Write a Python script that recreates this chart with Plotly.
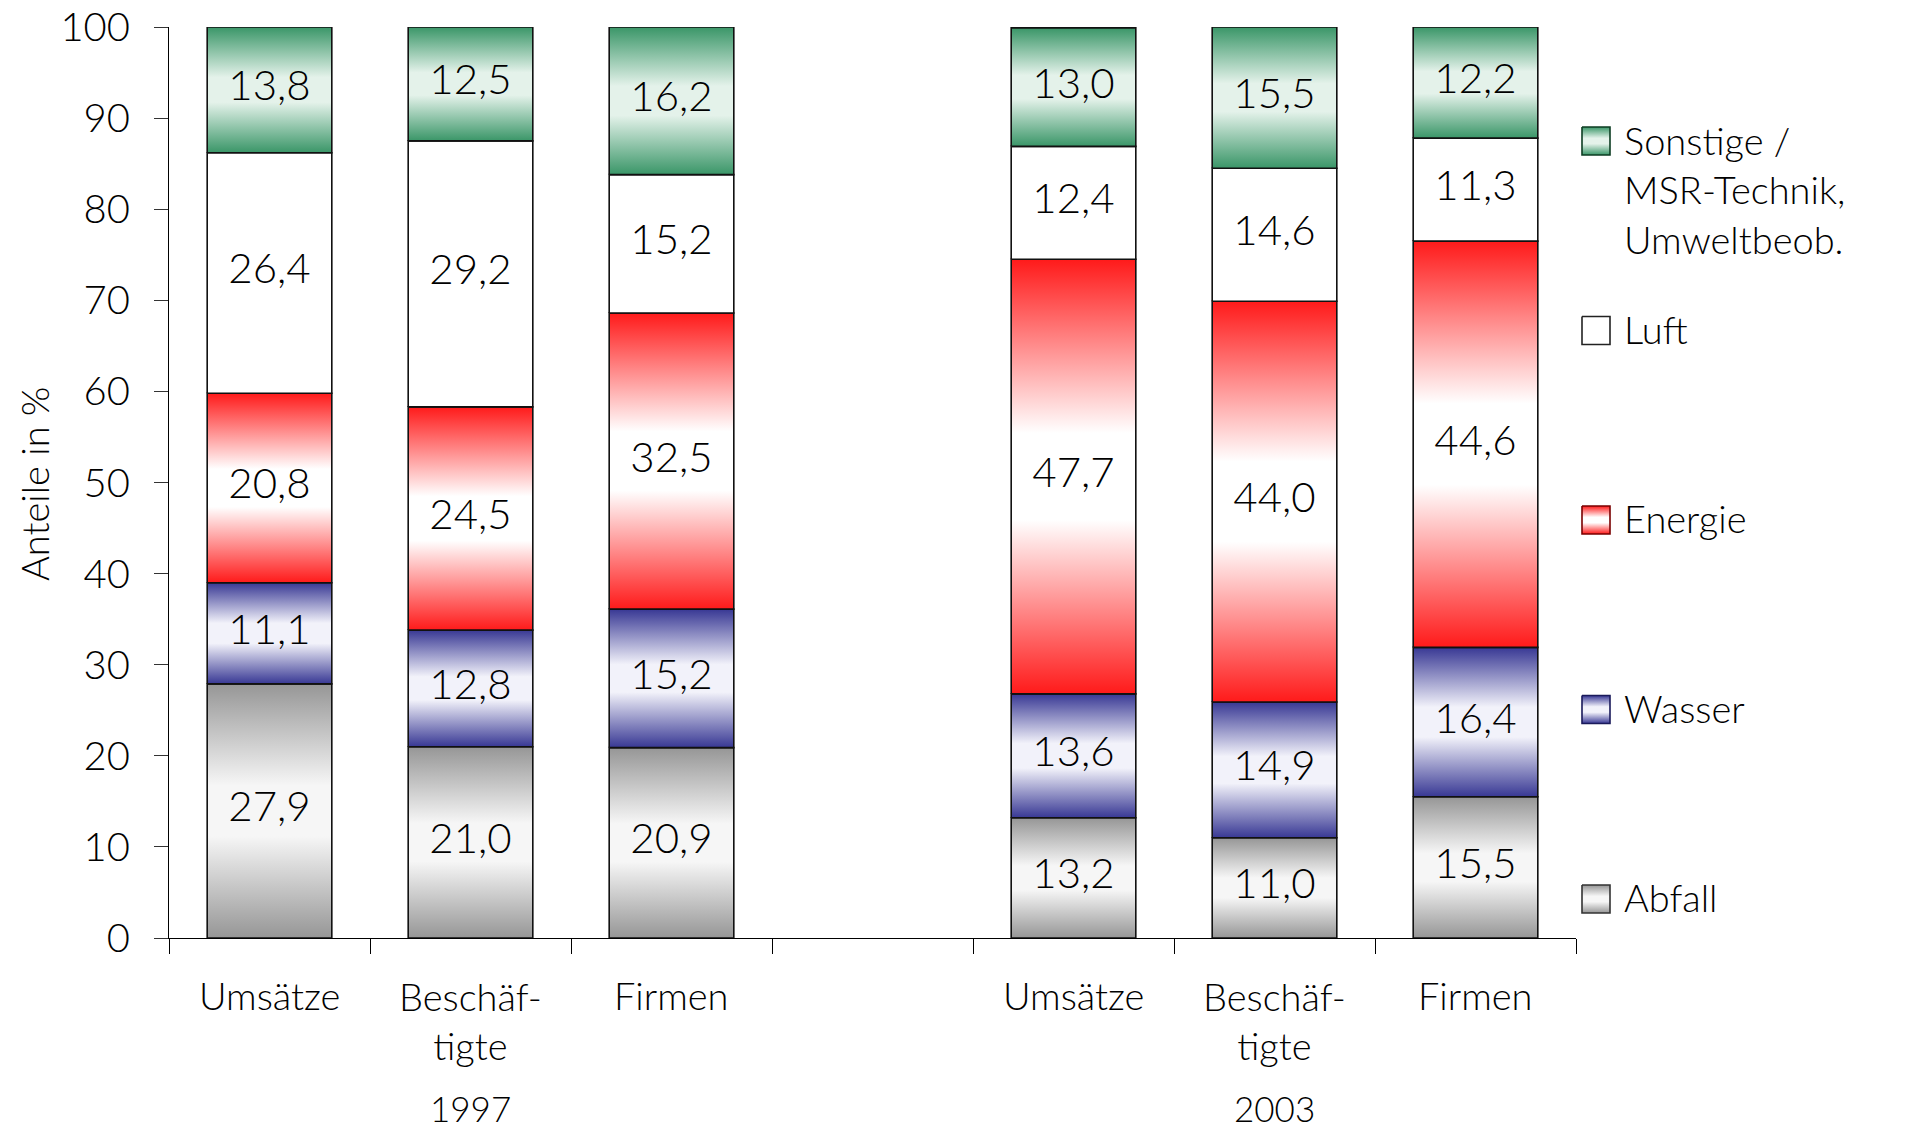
import plotly.graph_objects as go

# ---------------- data ----------------
categories = ["Umsätze", "Beschäf-<br>tigte", "Firmen", "", "Umsätze", "Beschäf-<br>tigte", "Firmen"]
years = ["1997", "2003"]
series_names = ["Abfall", "Wasser", "Energie", "Luft", "Sonstige /<br>MSR-Technik,<br>Umweltbeob."]
abfall = [27.9, 21.0, 20.9, 13.2, 11.0, 15.5]
wasser = [11.1, 12.8, 15.2, 13.6, 14.9, 16.4]
energie = [20.8, 24.5, 32.5, 47.7, 44.0, 44.6]
luft = [26.4, 29.2, 15.2, 12.4, 14.6, 11.3]
sonstige = [13.8, 12.5, 16.2, 13.0, 15.5, 12.2]
values = [abfall, wasser, energie, luft, sonstige]
y_ticks = list(range(0, 101, 10))

# ---------------- styles ----------------
FONT = "Lato"
FW = 300
edge = ["rgb(150,150,150)", "rgb(56,56,148)", "rgb(255,26,26)", "rgb(255,255,255)", "rgb(58,150,104)"]
mid = ["rgb(246,246,246)", "rgb(242,242,250)", "rgb(255,255,255)", "rgb(255,255,255)", "rgb(228,242,234)"]
outline_leg = ["#333333", "#1a1a5a", "#7a0000", "#222222", "#0d3d22"]


def cscale(i):
    return [[0, edge[i]], [0.4, mid[i]], [0.6, mid[i]], [1, edge[i]]]


BAR_W = 0.62
# plot geometry (px)
W, H = 1930, 1129
ML, MR, MT, MB = 169, 20, 27, 191
plot_w = W - ML - MR
plot_h = H - MT - MB
main_right = 1576
dom = (main_right - ML) / plot_w


def py(p):
    return (H - MB - p) / plot_h


def px(p):
    return (p - ML) / plot_w


fig = go.Figure()

bar_pos = [i + 1 for i, c in enumerate(categories) if c]

lab_x, lab_y, lab_t = [], [], []
for j, c in enumerate(bar_pos):
    base = 0.0
    for s in range(len(values)):
        v = values[s][j]
        y0, y1 = base, base + v
        x0, x1 = c - BAR_W / 2, c + BAR_W / 2
        kw = dict(fillcolor="white") if s == 3 else dict(fillgradient=dict(type="vertical", colorscale=cscale(s)))
        fig.add_trace(go.Scatter(
            x=[x0, x1, x1, x0, x0], y=[y0, y0, y1, y1, y0],
            mode="lines", fill="toself", line=dict(color="#111111", width=1.6),
            hoverinfo="skip", showlegend=False, xaxis="x", yaxis="y", **kw))
        lab_x.append(c)
        lab_y.append((y0 + y1) / 2)
        lab_t.append(f"{v:.1f}".replace(".", ","))
        base = y1

fig.add_trace(go.Scatter(x=lab_x, y=lab_y, text=lab_t, mode="text",
                         textfont=dict(family=FONT, size=42, color="black", weight=FW),
                         hoverinfo="skip", showlegend=False, cliponaxis=False))

# ---------------- custom legend (pixel axes x2/y2) ----------------
leg_order = [4, 3, 2, 1, 0]
leg_top = 141
leg_step = 189.5
sq = 28
sq_cx = 1596
for k, s in enumerate(leg_order):
    cy = leg_top + k * leg_step
    xa, xb = sq_cx - sq / 2, sq_cx + sq / 2
    ya, yb = cy - sq / 2, cy + sq / 2
    kw = dict(fillcolor="white") if s == 3 else dict(fillgradient=dict(type="vertical", colorscale=cscale(s)))
    fig.add_trace(go.Scatter(
        x=[xa, xb, xb, xa, xa], y=[ya, ya, yb, yb, ya], mode="lines", fill="toself",
        line=dict(color=outline_leg[s], width=1.6), hoverinfo="skip", showlegend=False,
        xaxis="x2", yaxis="y2", **kw))
    name = series_names[s]
    nlines = name.count("<br>") + 1
    text_cy = cy - 2 + (nlines - 1) * 50 / 2
    fig.add_annotation(x=1622, y=text_cy, xref="x2", yref="y2", text=name, showarrow=False,
                       xanchor="left", yanchor="middle", align="left",
                       font=dict(family=FONT, size=38, color="black", weight=FW))

# ---------------- category / year labels ----------------
for i, c in enumerate(categories):
    if not c:
        continue
    nlines = c.count("<br>") + 1
    cy = 995 + (nlines - 1) * 51 / 2
    fig.add_annotation(x=i + 1, y=py(cy), xref="x", yref="paper", text=c, showarrow=False,
                       xanchor="center", yanchor="middle", align="center",
                       font=dict(family=FONT, size=38, color="black", weight=FW))

year_pos = [2, 6]
for yr, xp in zip(years, year_pos):
    fig.add_annotation(x=xp, y=py(1108), xref="x", yref="paper", text=yr, showarrow=False,
                       xanchor="center", yanchor="middle",
                       font=dict(family=FONT, size=35, color="black", weight=FW))

fig.add_annotation(x=px(34), y=py(484), xref="paper", yref="paper", text="Anteile in %",
                   showarrow=False, textangle=-90, xanchor="center", yanchor="middle",
                   font=dict(family=FONT, size=38, color="black", weight=FW))

fig.update_layout(
    width=W, height=H,
    margin=dict(l=ML, r=MR, t=MT, b=MB, autoexpand=False),
    paper_bgcolor="white", plot_bgcolor="white",
    showlegend=False,
    xaxis=dict(domain=[0, dom], range=[0.5, len(categories) + 0.5], automargin=False,
               tickmode="array", tickvals=[k + 0.5 for k in range(len(categories) + 1)],
               ticktext=[""] * (len(categories) + 1), ticks="outside", ticklen=15,
               tickcolor="black", tickwidth=1, showline=True, linecolor="black", linewidth=1,
               showgrid=False, zeroline=False, fixedrange=True),
    yaxis=dict(range=[0, 100], tickmode="array", tickvals=y_ticks, ticks="outside", ticklen=14,
               tickcolor="#333333", showline=True, linecolor="black", linewidth=1, automargin=False,
               showgrid=False, zeroline=False, ticklabelstandoff=16,
               tickfont=dict(family=FONT, size=40, color="black", weight=FW), fixedrange=True),
    xaxis2=dict(domain=[dom, 1], range=[main_right, W - MR], visible=False, fixedrange=True,
                automargin=False),
    yaxis2=dict(domain=[0, 1], range=[H - MB, MT], anchor="x2", visible=False, fixedrange=True,
                automargin=False),
)

fig.write_html("out.html", config={"displayModeBar": False},
               post_script="document.body.style.margin='0';document.body.style.overflow='hidden';")
